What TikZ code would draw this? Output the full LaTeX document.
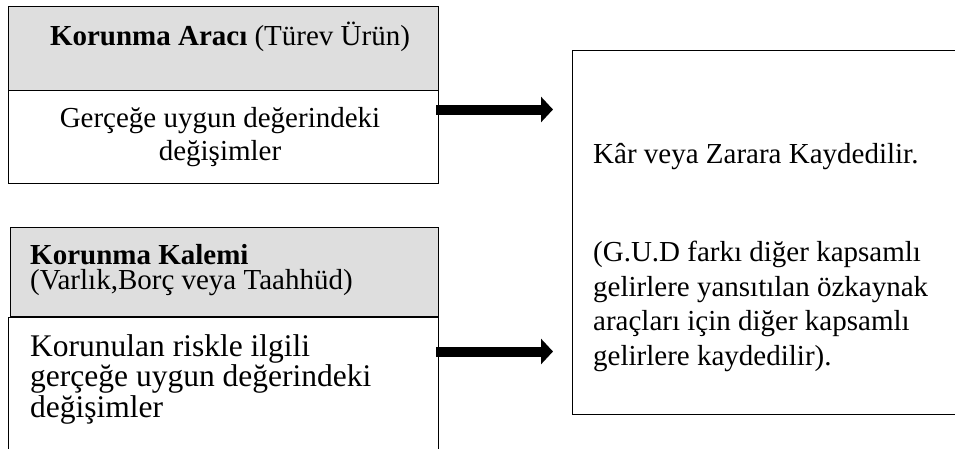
\documentclass[tikz,border=0pt]{standalone}
\usepackage{fontspec}
\setmainfont{Liberation Serif}
\usetikzlibrary{arrows.meta}
\definecolor{hdrgray}{HTML}{DEDEDE}
\begin{document}
\begin{tikzpicture}[x=1pt,y=-1pt,
  frame/.style={draw=black, line width=1.1pt, inner sep=0pt, anchor=north west},
  hdr/.style={frame, fill=hdrgray},
  txt/.style={inner sep=0pt, font=\fontsize{29}{33}\selectfont},
  bigarrow/.style={line width=10pt, -{Triangle[length=12pt,width=25pt]}}]
\useasboundingbox (0,0) rectangle (955,448);
\clip (0,0) rectangle (955,448);

% hedging instrument
\node[hdr, minimum width=430pt, minimum height=84pt] (hdrA) at (8,6) {};
\node[frame, minimum width=430pt, minimum height=93pt] (bodyA) at (8,90) {};
% hedged item
\node[hdr, minimum width=428pt, minimum height=89pt] (hdrB) at (10,227) {};
\node[frame, minimum width=430pt, minimum height=160pt] (bodyB) at (8,317) {};
% result box
\node[frame, minimum width=410pt, minimum height=364pt] (res) at (572,50) {};

% texts (multi-line nodes are placed by the baseline of their last line)
\node[txt, anchor=base] (tA) at (230,45) {\textbf{Korunma Aracı} (Türev Ürün)};
\node[txt, anchor=base, align=center] (tAbody) at (220,160)
  {Gerçeğe uygun değerindeki\\değişimler};
\node[txt, anchor=base west, align=left, font=\fontsize{29}{25}\selectfont] (tBhdr) at (30,289)
  {\textbf{Korunma Kalemi}\\(Varlık,Borç veya Taahhüd)};
\node[txt, anchor=base west, align=left, font=\fontsize{31.5}{30.5}\selectfont] (tBbody) at (30,417)
  {Korunulan riskle ilgili\\gerçeğe uygun değerindeki\\değişimler};
\node[txt, anchor=base west] (tR1) at (593,163) {Kâr veya Zarara Kaydedilir.};
\node[txt, anchor=base west, align=left, font=\fontsize{29}{34.5}\selectfont] (tR2) at (593,365)
  {(G.U.D farkı diğer kapsamlı\\gelirlere yansıtılan özkaynak\\araçları için diğer kapsamlı\\gelirlere kaydedilir).};

% arrows
\coordinate (a1s) at (436,109.5);
\coordinate (a1e) at (553,109.5);
\coordinate (a2s) at (436,351.5);
\coordinate (a2e) at (553,351.5);
\draw[bigarrow] (a1s) -- (a1e);
\draw[bigarrow] (a2s) -- (a2e);
\end{tikzpicture}
\end{document}
